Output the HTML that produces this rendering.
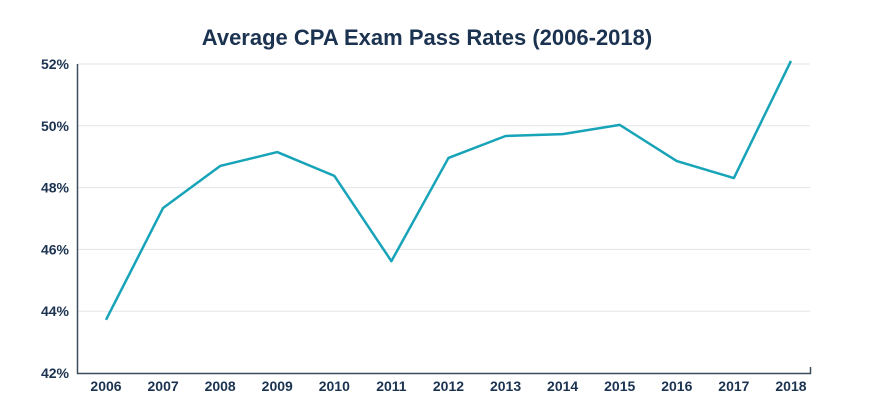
<!DOCTYPE html>
<html><head><meta charset="utf-8"><style>
body{margin:0;background:#fff;}
svg text{font-family:"Liberation Sans",sans-serif;fill:#1b3350;font-weight:bold;}
</style></head><body>
<svg width="886" height="404">
<text x="427" y="45" text-anchor="middle" font-size="22">Average CPA Exam Pass Rates (2006-2018)</text>
<g id="grid"></g><g id="axes"></g><g id="series"></g>
</svg>
<script>
const years=["2006","2007","2008","2009","2010","2011","2012","2013","2014","2015","2016","2017","2018"];
const passRates=[43.72,47.34,48.70,49.15,48.38,45.62,48.96,49.67,49.73,50.03,48.86,48.31,52.1];
const yTicks=[42,44,46,48,50,52];
const NS="http://www.w3.org/2000/svg";
const x0=106,xStep=57.08,yBase=373,yTop=64,yMin=42,yMax=52;
const xs=i=>x0+i*xStep;
const ys=v=>yBase-(v-yMin)/(yMax-yMin)*(yBase-yTop);
function mk(t,a,p){const e=document.createElementNS(NS,t);for(const k in a)e.setAttribute(k,a[k]);p.appendChild(e);return e;}
const g=document.getElementById('grid'),ax=document.getElementById('axes'),s=document.getElementById('series');
yTicks.forEach(v=>{
  if(v>yMin){const l=mk('line',{x1:78,x2:810,y1:ys(v),y2:ys(v),stroke:'#e3e6e8','stroke-width':1},g);
  
  }
  const t=mk('text',{x:69,y:ys(v)+5,'text-anchor':'end','font-size':14},ax);t.textContent=v+'%';
  
  
});
years.forEach((y,i)=>{
  const t=mk('text',{x:xs(i),y:391,'text-anchor':'middle','font-size':14},ax);t.textContent=y;
  
  
});
const p=mk('path',{d:'M77.5 '+yTop+' V373.5 H810.5 V367',fill:'none',stroke:'#3d4f5c','stroke-width':1.5},ax);


const line=mk('polyline',{points:passRates.map((v,i)=>xs(i)+','+ys(v)).join(' '),fill:'none',stroke:'#17a3b8','stroke-width':2.5,'stroke-linejoin':'round'},s);


</script>
</body></html>
